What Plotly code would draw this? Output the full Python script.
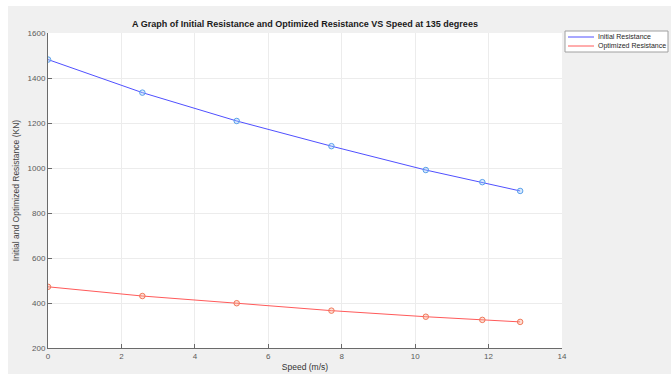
import plotly.graph_objects as go

speed = [0, 2.57, 5.14, 7.72, 10.29, 11.83, 12.86]
initial_res = [1482, 1335, 1209, 1097, 991, 937, 898]
optimized_res = [472, 431, 399, 366, 339, 325, 316]
series_names = ["Initial Resistance", "Optimized Resistance"]

x_ticks = [0, 2, 4, 6, 8, 10, 12, 14]
y_ticks = [200, 400, 600, 800, 1000, 1200, 1400, 1600]

W, H = 671, 374
L, R, T, B = 48, 109, 33, 26
pw, ph = W - L - R, H - T - B

def px(x):
    return (x - L) / pw

def py(y):
    return (H - B - y) / ph

line_colors = ["rgb(80,80,255)", "rgb(255,90,90)"]
marker_fill = ["rgba(150,200,250,0.35)", "rgba(250,170,140,0.35)"]
marker_line = ["rgb(90,160,235)", "rgb(240,120,90)"]

fig = go.Figure()
for name, ys, lc, mf, ml in zip(series_names, [initial_res, optimized_res], line_colors, marker_fill, marker_line):
    fig.add_trace(go.Scatter(
        x=speed, y=ys, mode="lines+markers", name=name, showlegend=False,
        line=dict(color=lc, width=1),
        marker=dict(symbol="circle", size=5.5, color=mf, line=dict(width=1, color=ml)),
    ))

# grey figure background with thin white border on top/left, white plot area
fig.add_shape(type="rect", xref="paper", yref="paper", layer="below",
              x0=px(8), x1=px(W), y0=py(H), y1=py(6),
              fillcolor="#f0f0f0", line=dict(width=0))
fig.add_shape(type="rect", xref="paper", yref="paper", layer="below",
              x0=0, x1=1, y0=0, y1=1, fillcolor="white", line=dict(width=0))

# manual legend (MATLAB style)
fig.add_shape(type="rect", xref="paper", yref="paper",
              x0=px(565), x1=px(668), y0=py(52), y1=py(31),
              fillcolor="white", line=dict(color="#a0a0a0", width=1))
for i, (name, lc) in enumerate(zip(series_names, line_colors)):
    yy = 37 + i * 9
    fig.add_shape(type="line", xref="paper", yref="paper",
                  x0=px(568), x1=px(594), y0=py(yy), y1=py(yy),
                  line=dict(color=lc, width=1))
    fig.add_annotation(xref="paper", yref="paper", x=px(596), y=py(yy),
                       xanchor="left", yanchor="middle", showarrow=False,
                       text=name, font=dict(family="Liberation Sans, Arial", size=7, color="#262626"))

axis_common = dict(
    showgrid=True, gridcolor="#ececec", gridwidth=1,
    showline=True, linecolor="#6a6a6a", linewidth=1,
    ticks="inside", ticklen=4, tickcolor="#6a6a6a",
    tickfont=dict(family="Liberation Sans, Arial", size=8, color="#5a5a5a"),
    zeroline=False, mirror=False, automargin=False,
)
fig.update_xaxes(range=[0, 14], tickvals=x_ticks, **axis_common,
                 title=dict(text="Speed (m/s)", font=dict(family="Liberation Sans, Arial", size=8.5, color="#333333"), standoff=4))
fig.update_yaxes(range=[200, 1600], tickvals=y_ticks, **axis_common,
                 title=dict(text="Initial and Optimized Resistance (KN)", font=dict(family="Liberation Sans, Arial", size=8.5, color="#444444"), standoff=6))

fig.update_layout(
    width=W, height=H,
    margin=dict(l=L, r=R, t=T, b=B, autoexpand=False),
    paper_bgcolor="white", plot_bgcolor="white",
    title=dict(text="<b>A Graph of Initial Resistance and Optimized Resistance VS Speed at 135 degrees</b>",
               x=(L + pw / 2) / W, xanchor="center", y=1 - 24 / H, yanchor="middle",
               font=dict(family="Liberation Sans, Arial", size=9, color="#1a1a1a")),
    showlegend=False,
)

fig.write_html("out.html")
